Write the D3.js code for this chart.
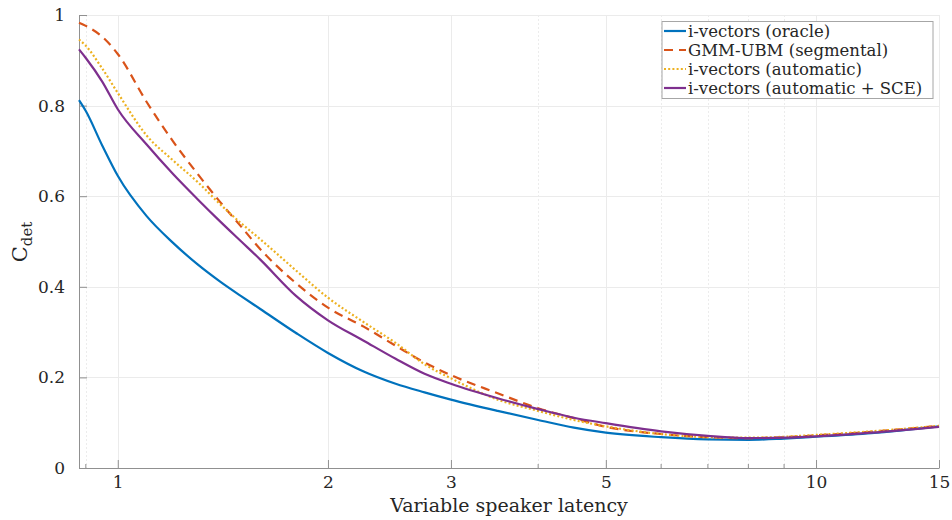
<!DOCTYPE html>
<html>
<head>
<meta charset="utf-8">
<script src="https://cdn.jsdelivr.net/npm/d3@7"></script>
<style>
  html, body { margin: 0; padding: 0; background: #fff; }
  svg { display: block; }
  text { font-family: "DejaVu Serif", "Liberation Serif", serif; fill: #262626; }
</style>
</head>
<body>
<svg id="chart" width="952" height="520"></svg>
<script>
// ---- data ----
const latency = [0.88, 0.9, 0.95, 1.0, 1.1, 1.2, 1.3, 1.4, 1.5, 1.6, 1.8, 2.0, 2.25, 2.5, 2.75, 3, 3.5, 4, 4.5, 5, 6, 7, 8, 9, 10, 12, 15];
const oracle    = [0.812, 0.788, 0.712, 0.645, 0.556, 0.497, 0.450, 0.412, 0.380, 0.351, 0.298, 0.254, 0.213, 0.186, 0.167, 0.151, 0.126, 0.106, 0.089, 0.078, 0.068, 0.063, 0.062, 0.065, 0.069, 0.077, 0.092];
const gmmUbm    = [0.983, 0.976, 0.952, 0.914, 0.808, 0.721, 0.650, 0.588, 0.534, 0.483, 0.408, 0.354, 0.312, 0.270, 0.233, 0.205, 0.165, 0.132, 0.110, 0.091, 0.075, 0.068, 0.066, 0.068, 0.072, 0.080, 0.093];
const automatic = [0.946, 0.932, 0.882, 0.828, 0.734, 0.679, 0.632, 0.583, 0.541, 0.505, 0.436, 0.376, 0.322, 0.276, 0.229, 0.198, 0.151, 0.126, 0.106, 0.092, 0.075, 0.068, 0.067, 0.069, 0.073, 0.081, 0.093];
const autoSce   = [0.924, 0.905, 0.853, 0.792, 0.714, 0.649, 0.594, 0.545, 0.501, 0.460, 0.380, 0.326, 0.281, 0.241, 0.208, 0.186, 0.154, 0.130, 0.111, 0.099, 0.081, 0.071, 0.066, 0.067, 0.070, 0.078, 0.091];
const seriesNames = ["i-vectors (oracle)", "GMM-UBM (segmental)", "i-vectors (automatic)", "i-vectors (automatic + SCE)"];
const xTicks = [1, 2, 3, 5, 10, 15];
const xMinorTicks = [0.9, 2, 3, 4, 5, 6, 7, 8, 9, 10];
const yTicks = [0, 0.2, 0.4, 0.6, 0.8, 1];
const xDomain = [0.88, 15];
const yDomain = [0, 1];

// ---- styles ----
const colors = ["#0072BD", "#D95319", "#EDB120", "#7E2F8E"];
const dashes = [null, "9,6", "2,2.2", null];
const seriesValues = [oracle, gmmUbm, automatic, autoSce];

const svg = d3.select("#chart");
const L = 79, R = 939, T = 15, B = 468;

const x = d3.scaleLog().domain(xDomain).range([L, R]);
const y = d3.scaleLinear().domain(yDomain).range([B, T]);

// grid
const grid = svg.append("g");
grid.selectAll(".minor").data(xMinorTicks).enter().append("line")
  .attr("x1", d => Math.round(x(d)) + 0.5).attr("x2", d => Math.round(x(d)) + 0.5)
  .attr("y1", T).attr("y2", B)
  .attr("stroke", "#ececec").attr("stroke-dasharray", "2,2");
grid.selectAll(".major").data(xTicks).enter().append("line")
  .attr("x1", d => Math.round(x(d)) + 0.5).attr("x2", d => Math.round(x(d)) + 0.5)
  .attr("y1", T).attr("y2", B)
  .attr("stroke", "#ebebeb");
grid.selectAll(".hy").data(yTicks).enter().append("line")
  .attr("x1", L).attr("x2", R)
  .attr("y1", d => Math.round(y(d)) + 0.5).attr("y2", d => Math.round(y(d)) + 0.5)
  .attr("stroke", "#ebebeb");

// axes
const xAxis = d3.axisBottom(x).tickValues(xTicks).tickFormat(d3.format("d")).tickSizeInner(-8).tickSizeOuter(0).tickPadding(8);
const gx = svg.append("g").attr("transform", `translate(0,${B})`).call(xAxis);
gx.select(".domain").attr("stroke", "#909090");
gx.selectAll(".tick line").attr("stroke", "#909090");
gx.selectAll("text").attr("font-size", 17).attr("fill", "#262626").attr("font-family", "DejaVu Serif");
// minor ticks
svg.append("g").selectAll("line").data(xMinorTicks.filter(d => xTicks.indexOf(d) < 0)).enter().append("line")
  .attr("x1", d => x(d)).attr("x2", d => x(d)).attr("y1", B).attr("y2", B - 4)
  .attr("stroke", "#909090");

const yAxis = d3.axisLeft(y).tickValues(yTicks).tickFormat(d => d === 0 ? "0" : d === 1 ? "1" : d3.format(".1f")(d)).tickSizeInner(-8).tickSizeOuter(0).tickPadding(14);
const gy = svg.append("g").attr("transform", `translate(${L},0)`).call(yAxis);
gy.select(".domain").attr("stroke", "#909090");
gy.selectAll(".tick line").attr("stroke", "#909090");
gy.selectAll("text").attr("font-size", 17).attr("fill", "#262626").attr("font-family", "DejaVu Serif");

// lines
const line = d3.line().x((d, i) => x(latency[i])).y(d => y(d)).curve(d3.curveMonotoneX);
seriesValues.forEach((vals, k) => {
  svg.append("path").datum(vals)
    .attr("d", line)
    .attr("fill", "none")
    .attr("stroke", colors[k])
    .attr("stroke-width", 2.2)
    .attr("stroke-dasharray", dashes[k]);
});

// axis labels
svg.append("text").attr("x", 509).attr("y", 512).attr("text-anchor", "middle")
  .attr("font-size", 19).text("Variable speaker latency");
const yl = svg.append("text").attr("transform", "translate(27,242) rotate(-90)").attr("text-anchor", "middle");
yl.append("tspan").attr("font-size", 21).text("C");
yl.append("tspan").attr("font-size", 15).attr("dy", 5).text("det");

// legend
const lg = svg.append("g");
lg.append("rect").attr("x", 662).attr("y", 21.5).attr("width", 271).attr("height", 77)
  .attr("fill", "#fff").attr("stroke", "#a6a6a6");
seriesNames.forEach((name, k) => {
  const yy = 31 + k * 19;
  lg.append("line").attr("x1", 664).attr("x2", 686).attr("y1", yy).attr("y2", yy)
    .attr("stroke", colors[k]).attr("stroke-width", 2.2).attr("stroke-dasharray", dashes[k]);
  lg.append("text").attr("x", 688).attr("y", yy + 6).attr("font-size", 16.5).text(name);
});
</script>
</body>
</html>
